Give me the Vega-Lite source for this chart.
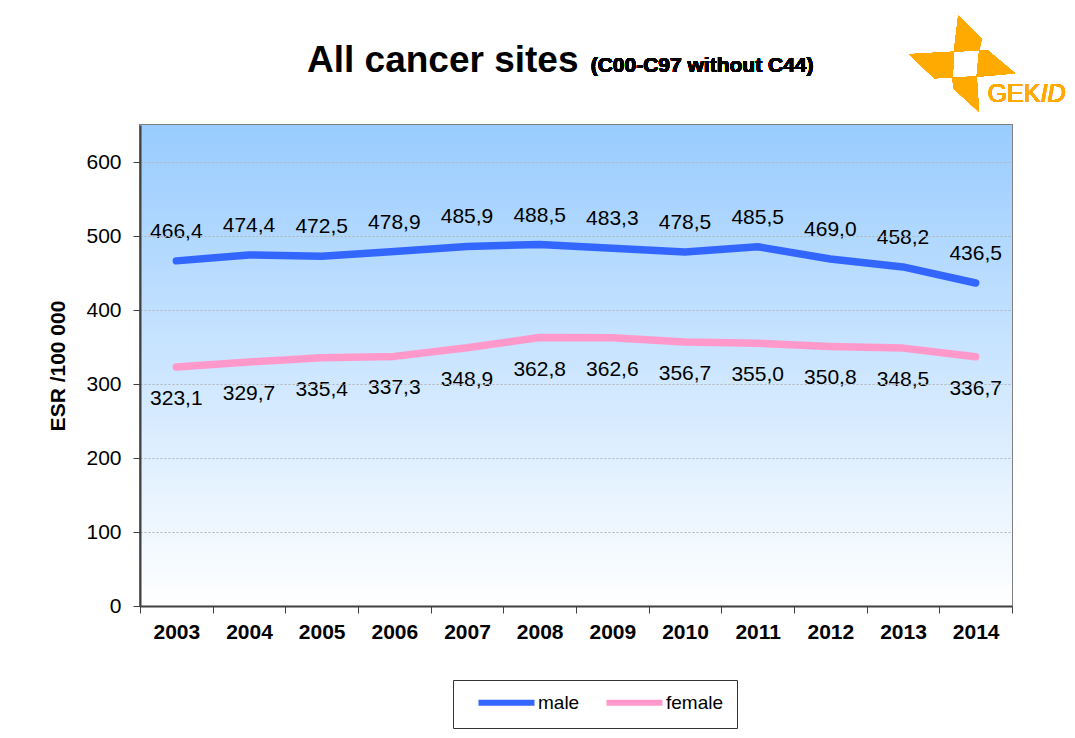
{
  "$schema": "https://vega.github.io/schema/vega-lite/v6.json",
  "autosize": {"type": "none"},
  "width": 872,
  "height": 481,
  "padding": {"left": 140, "top": 125, "right": 63, "bottom": 132},
  "background": "white",
  "title": {
    "text": "All cancer sites",
    "anchor": "start",
    "frame": "group",
    "dx": 167,
    "offset": -64,
    "font": "Liberation Sans",
    "fontSize": 37,
    "fontWeight": "bold",
    "color": "#000000"
  },
  "config": {
    "locale": {
      "number": {"decimal": ",", "thousands": ".", "grouping": [3], "currency": ["", " €"]}
    },
    "view": {"stroke": "#808080", "strokeWidth": 2},
    "font": "Liberation Sans"
  },
  "datasets": {
    "series": [
      {"year": "2003", "sex": "male", "value": 466.4},
      {"year": "2004", "sex": "male", "value": 474.4},
      {"year": "2005", "sex": "male", "value": 472.5},
      {"year": "2006", "sex": "male", "value": 478.9},
      {"year": "2007", "sex": "male", "value": 485.9},
      {"year": "2008", "sex": "male", "value": 488.5},
      {"year": "2009", "sex": "male", "value": 483.3},
      {"year": "2010", "sex": "male", "value": 478.5},
      {"year": "2011", "sex": "male", "value": 485.5},
      {"year": "2012", "sex": "male", "value": 469.0},
      {"year": "2013", "sex": "male", "value": 458.2},
      {"year": "2014", "sex": "male", "value": 436.5},
      {"year": "2003", "sex": "female", "value": 323.1},
      {"year": "2004", "sex": "female", "value": 329.7},
      {"year": "2005", "sex": "female", "value": 335.4},
      {"year": "2006", "sex": "female", "value": 337.3},
      {"year": "2007", "sex": "female", "value": 348.9},
      {"year": "2008", "sex": "female", "value": 362.8},
      {"year": "2009", "sex": "female", "value": 362.6},
      {"year": "2010", "sex": "female", "value": 356.7},
      {"year": "2011", "sex": "female", "value": 355.0},
      {"year": "2012", "sex": "female", "value": 350.8},
      {"year": "2013", "sex": "female", "value": 348.5},
      {"year": "2014", "sex": "female", "value": 336.7}
    ]
  },
  "data": {"name": "series"},
  "layer": [
    {
      "mark": {
        "type": "rect",
        "color": {
          "gradient": "linear",
          "x1": 0, "y1": 0, "x2": 0, "y2": 1,
          "stops": [
            {"offset": 0, "color": "#99CCFF"},
            {"offset": 1, "color": "#FFFFFF"}
          ]
        }
      },
      "encoding": {
        "y": {"datum": 650, "type": "quantitative"},
        "y2": {"datum": 0}
      }
    },
    {
      "mark": {"type": "line", "strokeWidth": 7.5, "strokeCap": "round", "strokeJoin": "round"},
      "encoding": {
        "x": {
          "field": "year", "type": "ordinal",
          "scale": {"type": "band", "paddingInner": 0, "paddingOuter": 0},
          "axis": {
            "title": null, "labelAngle": 0, "tickBand": "extent",
            "labelFont": "Liberation Sans", "labelFontSize": 21, "labelFontWeight": "bold", "labelColor": "#000000",
            "labelPadding": 8, "tickSize": 7, "tickColor": "#404040", "tickWidth": 1,
            "domainColor": "#404040", "domainWidth": 2, "zindex": 1
          }
        },
        "y": {
          "field": "value", "type": "quantitative",
          "scale": {"domain": [0, 650], "nice": false, "zero": true},
          "axis": {
            "title": "ESR /100 000", "values": [0, 100, 200, 300, 400, 500, 600],
            "titleFont": "Liberation Sans", "titleFontSize": 21, "titleFontWeight": "bold", "titleColor": "#000000", "titlePadding": 17,
            "labelFont": "Liberation Sans", "labelFontSize": 21, "labelColor": "#000000", "labelPadding": 12,
            "tickSize": 7, "tickColor": "#404040", "domainColor": "#404040", "domainWidth": 2,
            "grid": true, "gridColor": "#b4b4b4", "gridDash": [2, 2], "gridWidth": 1, "zindex": 1
          }
        },
        "color": {
          "field": "sex", "type": "nominal",
          "scale": {"domain": ["male", "female"], "range": ["#3366FF", "#FF99CC"]},
          "legend": {
            "orient": "none", "legendX": 313, "legendY": 555, "direction": "horizontal",
            "title": null, "symbolType": "M-4.667,0L4.667,0", "symbolSize": 144, "symbolStrokeWidth": 6,
            "labelFont": "Liberation Sans", "labelFontSize": 19, "labelColor": "#000000", "labelOffset": 22,
            "strokeColor": "#333333", "fillColor": "#FFFFFF", "padding": 13, "columnPadding": 14, "symbolOffset": 31
          }
        }
      }
    },
    {
      "transform": [{"filter": "datum.sex === 'male'"}],
      "mark": {"type": "text", "dy": -29, "baseline": "middle", "align": "center", "fontSize": 21, "font": "Liberation Sans", "fill": "#000000"},
      "encoding": {
        "x": {"field": "year", "type": "ordinal"},
        "y": {"field": "value", "type": "quantitative"},
        "text": {"field": "value", "type": "quantitative", "format": ".1f"}
      }
    },
    {
      "transform": [{"filter": "datum.sex === 'female'"}],
      "mark": {"type": "text", "dy": 32, "baseline": "middle", "align": "center", "fontSize": 21, "font": "Liberation Sans", "fill": "#000000"},
      "encoding": {
        "x": {"field": "year", "type": "ordinal"},
        "y": {"field": "value", "type": "quantitative"},
        "text": {"field": "value", "type": "quantitative", "format": ".1f"}
      }
    },
    {
      "mark": {"type": "text", "text": "(C00-C97 without C44)", "align": "left", "baseline": "alphabetic", "dx": 51, "fontSize": 21, "fontWeight": "bold", "font": "Liberation Sans", "fill": "#000000"},
      "encoding": {
        "x": {"datum": "2008", "type": "ordinal"},
        "y": {"datum": 722, "type": "quantitative"}
      }
    },
    {
      "mark": {
        "type": "point", "filled": true, "color": "#FFAA00", "opacity": 1, "size": 10000, "strokeWidth": 0,
        "shape": "M-0.348,-0.972L0.12,-0.5L0.072,-0.286L-0.434,-0.252Z M-1.328,-0.2L-0.434,-0.252L-0.46,0.26L-0.828,0.28Z M0.072,-0.286L0.232,-0.286L0.786,0.18L0.02,0.248Z M-0.46,0.26L0.02,0.248L0.066,0.948L-0.448,0.48Z"
      },
      "encoding": {
        "x": {"datum": "2014", "type": "ordinal"},
        "y": {"datum": 732, "type": "quantitative"}
      }
    },
    {
      "mark": {"type": "text", "text": "GEK", "align": "left", "baseline": "alphabetic", "dx": 12, "fontSize": 25, "font": "Liberation Sans", "fill": "#FFAA00"},
      "encoding": {
        "x": {"datum": "2014", "type": "ordinal"},
        "y": {"datum": 681, "type": "quantitative"}
      }
    },
    {
      "mark": {"type": "text", "text": "ID", "align": "left", "baseline": "alphabetic", "dx": 65, "fontSize": 25, "fontStyle": "italic", "font": "Liberation Sans", "fill": "#FFAA00"},
      "encoding": {
        "x": {"datum": "2014", "type": "ordinal"},
        "y": {"datum": 681, "type": "quantitative"}
      }
    }
  ]
}
